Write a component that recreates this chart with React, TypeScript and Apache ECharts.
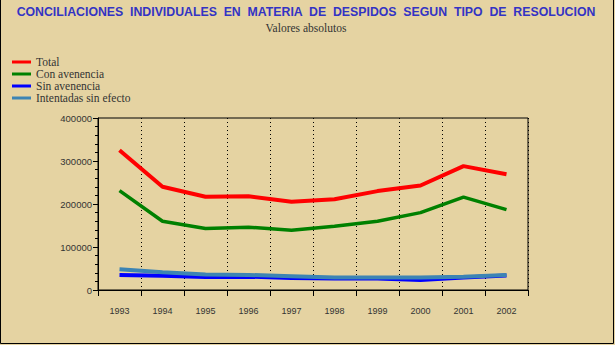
import React, { useEffect, useRef } from "react";
import * as echarts from "echarts";

const years = ["1993", "1994", "1995", "1996", "1997", "1998", "1999", "2000", "2001", "2002"];
const total = [325000, 240000, 217000, 218000, 205000, 211000, 230000, 243000, 288000, 269000];
const conAvenencia = [231000, 160000, 143000, 146000, 139000, 148000, 160000, 180000, 216000, 187000];
const sinAvenencia = [35000, 33000, 30000, 31000, 28000, 27000, 27000, 23000, 29000, 34000];
const intentadas = [48000, 41000, 36000, 35000, 32000, 29000, 29000, 29000, 31000, 35000];

const seriesNames = ["Total", "Con avenencia", "Sin avenencia", "Intentadas sin efecto"];
const seriesColors = ["#ff0000", "#008000", "#0000ff", "#3c84b4"];
const seriesData = [total, conAvenencia, sinAvenencia, intentadas];

export default function App() {
  const ref = useRef<HTMLDivElement>(null);
  useEffect(() => {
    if (!ref.current) return;
    const chart = echarts.init(ref.current, null, { renderer: "svg" });
    const sans = "Liberation Sans";
    const serif = "Liberation Serif";
    chart.setOption({
      animation: false,
      backgroundColor: "#e5d3a2",
      title: [
        {
          text: "CONCILIACIONES  INDIVIDUALES  EN  MATERIA  DE  DESPIDOS  SEGUN  TIPO  DE  RESOLUCION",
          left: 306,
          top: 6,
          padding: 0,
          textAlign: "center",
          textStyle: { fontFamily: sans, fontSize: 12.3, fontWeight: "bold", color: "#3333c4" },
        },
        {
          text: "Valores absolutos",
          left: 306,
          top: 22,
          padding: 0,
          textAlign: "center",
          textStyle: { fontFamily: serif, fontSize: 11.5, fontWeight: "normal", color: "#333333" },
        },
      ],
      legend: {
        orient: "vertical",
        left: 12,
        top: 56,
        padding: 0,
        itemWidth: 19,
        itemHeight: 3,
        itemGap: 0,
        icon: "rect",
        data: seriesNames,
        textStyle: { fontFamily: serif, fontSize: 11.5, color: "#333333", lineHeight: 11.6 },
      },
      grid: {
        left: 98,
        right: 87,
        top: 118,
        bottom: 55,
        show: true,
        borderColor: "#000000",
        borderWidth: 1,
        backgroundColor: "transparent",
      },
      xAxis: {
        type: "category",
        data: years,
        boundaryGap: true,
        axisLine: { lineStyle: { color: "#000000", width: 1 } },
        axisTick: { show: true, length: 6, lineStyle: { color: "#000000" } },
        axisLabel: { fontFamily: sans, fontSize: 9, color: "#333333", margin: 16 },
        splitLine: { show: true, lineStyle: { color: "#000000", type: [1, 3], width: 1 } },
      },
      yAxis: {
        type: "value",
        min: 0,
        max: 400000,
        interval: 100000,
        axisLine: { show: true, lineStyle: { color: "#000000", width: 1 } },
        axisTick: { show: true, length: 5, lineStyle: { color: "#000000" } },
        minorTick: { show: true, splitNumber: 5, length: 3, lineStyle: { color: "#000000" } },
        axisLabel: {
          fontFamily: sans,
          fontSize: 9.5,
          color: "#333333",
          margin: 6,
          formatter: (v: number) => String(v),
        },
        splitLine: { show: false },
      },
      series: seriesNames.map((name, i) => ({
        name,
        type: "line",
        data: seriesData[i],
        symbol: "none",
        color: seriesColors[i],
        lineStyle: { width: i === 1 ? 3.5 : 4, color: seriesColors[i] },
      })),
      graphic: [
        {
          type: "polyline",
          shape: { points: [[0.5, 0], [0.5, 343.5], [613.5, 343.5], [613.5, 0]] },
          style: { stroke: "#000000", lineWidth: 1, fill: "none" },
          silent: true,
        },
      ],
    });
    return () => chart.dispose();
  }, []);
  return (
    <div
      ref={ref}
      style={{ position: "absolute", left: 0, top: 0, width: 615, height: 345 }}
    />
  );
}
